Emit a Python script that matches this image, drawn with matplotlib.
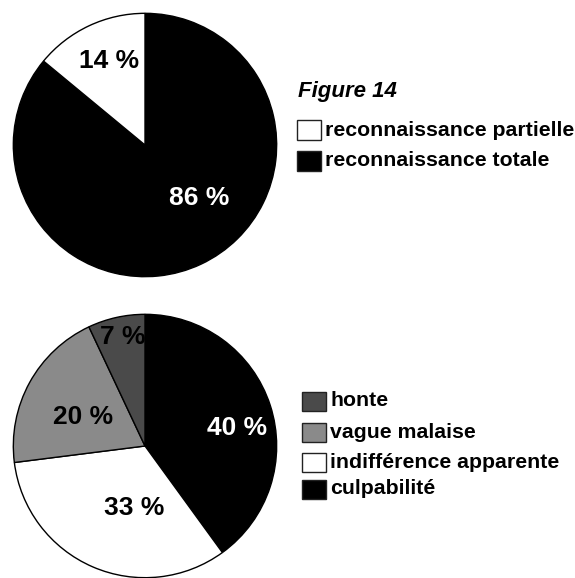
import matplotlib.pyplot as plt
from matplotlib.patches import Rectangle

plt.rcParams["font.family"] = ["Liberation Sans", "DejaVu Sans"]

# Data: top pie (Figure 14)
top_labels = ["reconnaissance totale", "reconnaissance partielle"]
top_values = [86, 14]
top_colors = ["#000000", "#ffffff"]

# Data: bottom pie
bot_labels = ["culpabilité", "indifférence apparente", "vague malaise", "honte"]
bot_values = [40, 33, 20, 7]
bot_colors = ["#000000", "#ffffff", "#8a8a8a", "#4a4a4a"]

title = "Figure 14"

W, H = 575, 578
fig = plt.figure(figsize=(W / 100, H / 100), dpi=100)


def pie_axes(cx, cy, r):
    return fig.add_axes([(cx - r) / W, 1 - (cy + r) / H, 2 * r / W, 2 * r / H])


def draw_pie(ax, values, colors, label_pos, label_colors, clip=None):
    wedges, _ = ax.pie(values, colors=colors, startangle=90, counterclock=False,
                       wedgeprops=dict(edgecolor="black", linewidth=1.0))
    ax.set_xlim(-1.01, 1.01)
    ax.set_ylim(-1.01, 1.01)
    ax.set_aspect("equal")
    ax.axis("off")
    for i, (v, (x, y), c) in enumerate(zip(values, label_pos, label_colors)):
        t = ax.text(x, y, f"{v} %", ha="center", va="center", color=c,
                    fontsize=19, fontweight="bold")
        if clip is not None and i == clip:
            t.set_clip_path(wedges[i])
    return wedges


ax1 = pie_axes(145, 145, 133)
draw_pie(ax1, top_values, top_colors,
         [(0.41, -0.40), (-0.27, 0.64)], ["white", "black"])

ax2 = pie_axes(145, 446, 133)
draw_pie(ax2, bot_values, bot_colors,
         [(0.70, 0.135), (-0.08, -0.47), (-0.47, 0.22), (-0.17, 0.83)],
         ["white", "black", "black", "black"], clip=3)

# legends drawn in pixel coordinates
ov = fig.add_axes([0, 0, 1, 1])
ov.set_xlim(0, W)
ov.set_ylim(H, 0)
ov.axis("off")

ov.text(298, 92, title, fontsize=16, fontweight="bold", fontstyle="italic",
        ha="left", va="center")

top_leg = [(top_labels[1], top_colors[1], 130), (top_labels[0], top_colors[0], 161)]
for lab, col, y in top_leg:
    ov.add_patch(Rectangle((297, y - 10), 24, 20, facecolor=col, edgecolor="#222222", lw=1))
    ov.text(325, y, lab, fontsize=15.3, fontweight="bold", ha="left", va="center")

bot_y = [401, 432, 462, 489]
for lab, col, y in zip(bot_labels[::-1], bot_colors[::-1], bot_y):
    ov.add_patch(Rectangle((302, y - 9.5), 24, 19, facecolor=col, edgecolor="#222222", lw=1))
    ov.text(330, y, lab, fontsize=15.3, fontweight="bold", ha="left", va="center")

fig.savefig("out.png", dpi=100)
